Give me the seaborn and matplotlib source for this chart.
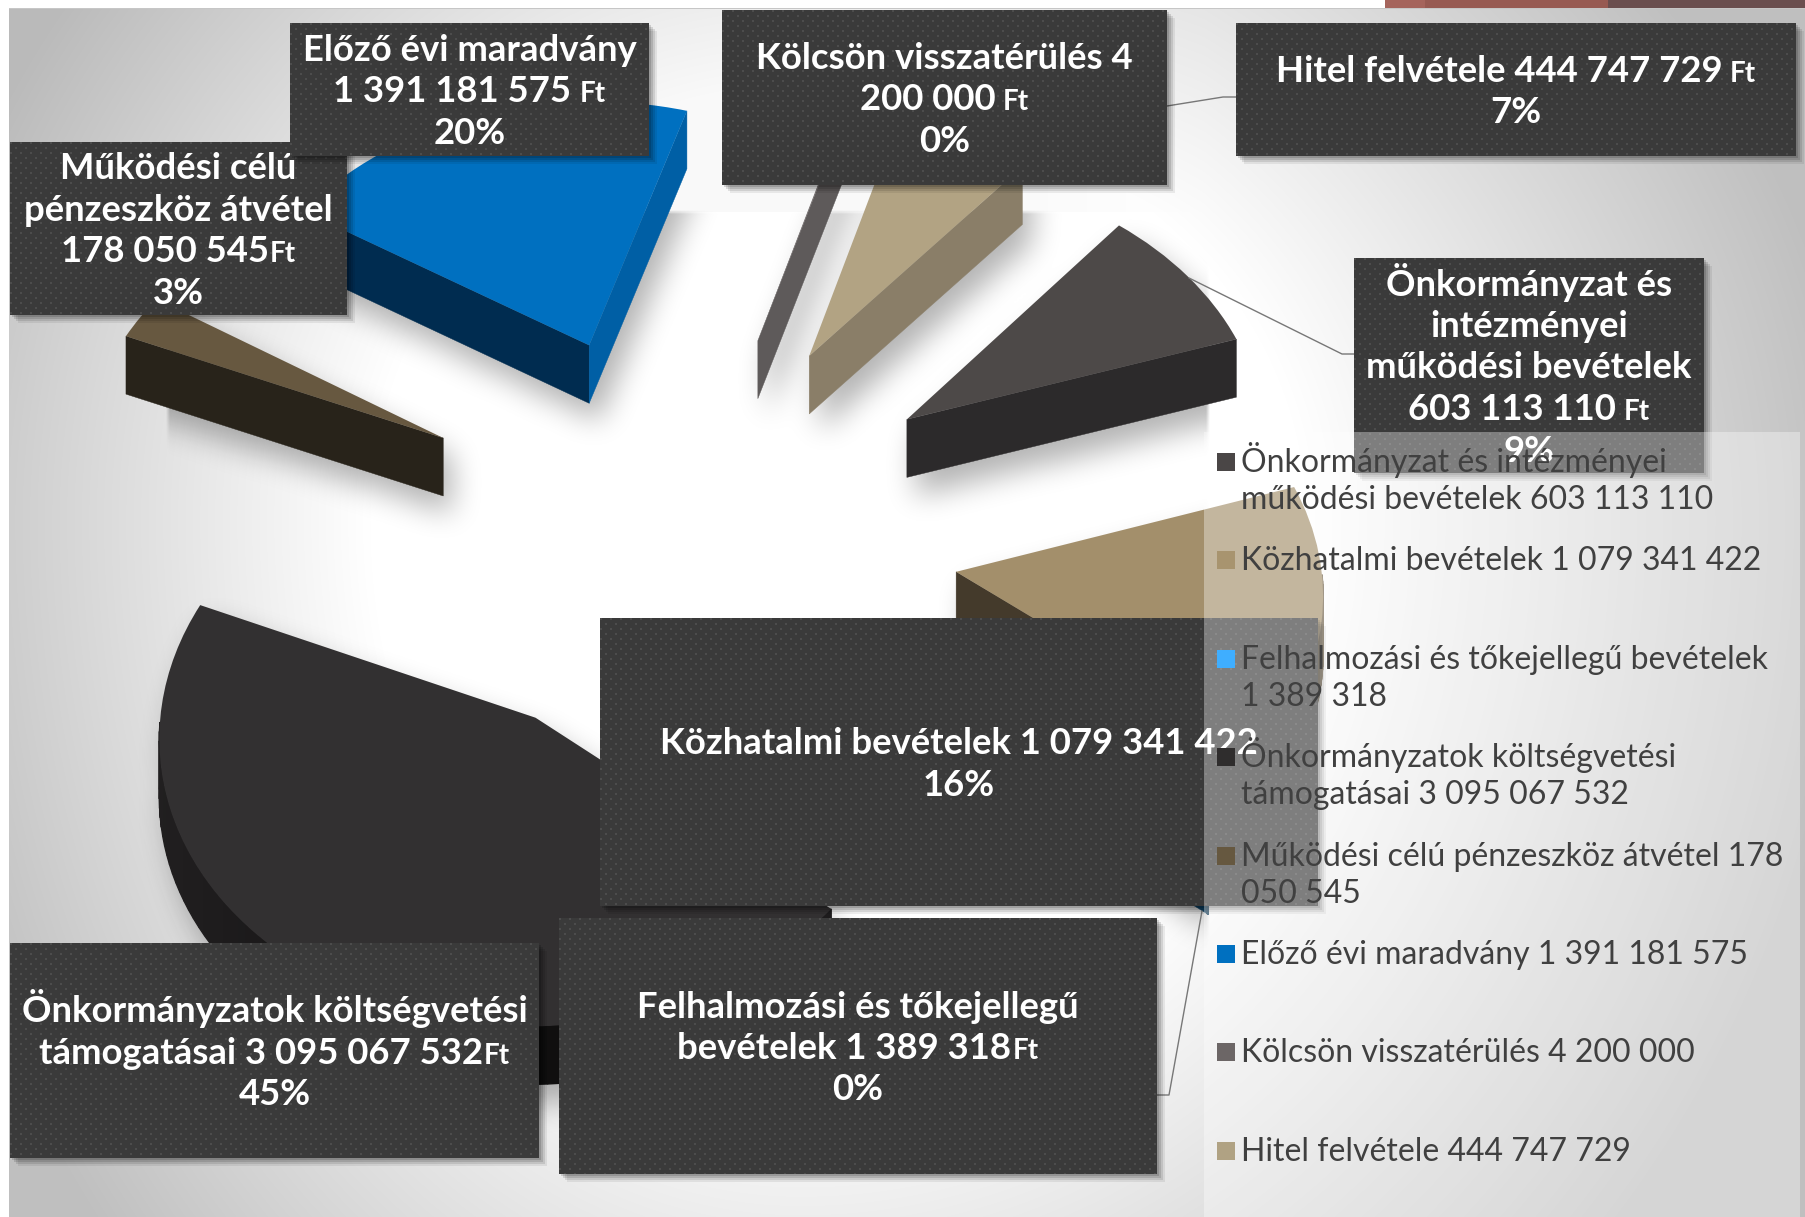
import numpy as np
import matplotlib
matplotlib.use("Agg")
import matplotlib.pyplot as plt
import seaborn as sns
from matplotlib.path import Path
from matplotlib.patches import Rectangle
from matplotlib.transforms import Transform

# Chart data
categories = [
    "Önkormányzat és intézményei működési bevételek",
    "Közhatalmi bevételek",
    "Felhalmozási és tőkejellegű bevételek",
    "Önkormányzatok költségvetési támogatásai",
    "Működési célú pénzeszköz átvétel",
    "Előző évi maradvány",
    "Kölcsön visszatérülés",
    "Hitel felvétele",
]
values = [603113110, 1079341422, 1389318, 3095067532, 178050545, 1391181575, 4200000, 444747729]

top_colors = ["#4D4948", "#A38F6B", "#3FAEFF", "#323031", "#675840", "#0070C0", "#6D6767", "#B2A383"]
legend_colors = ["#4A4646", "#A8946F", "#3FAEFF", "#2F2D2D", "#665840", "#0070C0", "#6C6666", "#B0A283"]
start_side = ["#2C2A2B", "#443A2B", "#0F3F60", "#211F20", "#28231A", "#002C50", "#5E5A5A", "#8A7E68"]
end_side = ["#2C2A2B", "#443A2B", "#0F3F60", "#211F20", "#28231A", "#005FA5", "#5E5A5A", "#8A7E68"]
arc_side = ["#2C2A2B", "#6E5F47", "#0F3F60", "#211F20", "#28231A", "#002C50", "#5E5A5A", "#8A7E68"]

legend_lines = [
    ["Önkormányzat és intézményei", "működési bevételek 603 113 110"],
    ["Közhatalmi bevételek 1 079 341 422"],
    ["Felhalmozási és tőkejellegű bevételek", "1 389 318"],
    ["Önkormányzatok költségvetési", "támogatásai 3 095 067 532"],
    ["Működési célú pénzeszköz átvétel 178", "050 545"],
    ["Előző évi maradvány 1 391 181 575"],
    ["Kölcsön visszatérülés 4 200 000"],
    ["Hitel felvétele 444 747 729"],
]

# Data labels: (box left, top, right, bottom, lines); a line is text or (text, small unit)
data_labels = [
    (10, 142, 347, 315, ["Működési célú", "pénzeszköz átvétel", ("178 050 545", "Ft"), "3%"]),
    (290, 23, 649, 156, ["Előző évi maradvány", ("1 391 181 575", " Ft"), "20%"]),
    (722, 10, 1167, 185, ["Kölcsön visszatérülés 4", ("200 000", " Ft"), "0%"]),
    (1236, 23, 1796, 156, [("Hitel felvétele 444 747 729", " Ft"), "7%"]),
    (1354, 258, 1704, 473, ["Önkormányzat és", "intézményei", "működési bevételek", ("603 113 110", " Ft"), "9%"]),
    (600, 618, 1318, 906, ["Közhatalmi bevételek 1 079 341 422", "16%"]),
    (559, 918, 1157, 1174, ["Felhalmozási és tőkejellegű", ("bevételek 1 389 318", "Ft"), "0%"]),
    (10, 943, 539, 1158, ["Önkormányzatok költségvetési", ("támogatásai 3 095 067 532", "Ft"), "45%"]),
]

leaders = [
    ([1167, 1223, 1236], [106, 97, 97]),
    ([1189, 1342, 1354], [278, 354, 354]),
    ([1202, 1169, 1157], [911, 1095, 1095]),
]

W, H = 1806, 1217
CU, CV, SX, SY, PERSP = 683.0, 533.5, 363.0, 274.0, 0.05
DEPTH = 58.0


def project(x, y):
    w = 1 + PERSP * np.asarray(y)
    return CU + SX * np.asarray(x) / w, CV - SY * np.asarray(y) / w


class TiltedPlane(Transform):
    input_dims = 2
    output_dims = 2
    is_affine = False

    def transform_non_affine(self, values):
        values = np.asarray(values)
        u, v = project(values[:, 0], values[:, 1])
        return np.column_stack([u, v])


def blur(a, size, passes=3):
    kernel = np.ones(size) / size
    for _ in range(passes):
        a = np.apply_along_axis(lambda r: np.convolve(r, kernel, mode="same"), 0, a)
        a = np.apply_along_axis(lambda r: np.convolve(r, kernel, mode="same"), 1, a)
    return a


sns.set_theme(style="white", font="Lato")
fig = plt.figure(figsize=(W / 100, H / 100), dpi=100)
ax = fig.add_axes([0, 0, 1, 1])

# The pie itself, each slice pulled out and laid on the tilted plane
palette = sns.color_palette(top_colors)
wedges, _ = ax.pie(values, colors=palette, explode=[0.76] * len(values), startangle=50,
                   counterclock=False, radius=1, wedgeprops={"linewidth": 0})
ax.set_aspect("auto")
ax.set_frame_on(False)
plane = TiltedPlane() + ax.transData

# Slide background
yy, xx = np.mgrid[0:H, 0:W]
dx = np.where(xx > 800, (xx - 800) * 0.85, xx - 800)
dy = np.where(yy > 520, (yy - 520) * 0.8, yy - 520)
bg = np.clip(1 - 0.00053 * np.clip(np.hypot(dx, dy) - 430, 0, None), 0.75, 1)
band = (yy < 212) & (xx < 1204)
bg[band] -= (0.02 * np.clip((1204 - xx) / 200.0, 0, 1))[band]
bg = np.dstack([bg, bg, bg])
bg[:9, :] = 1
bg[:, :9] = 1
bg[8, 9:] = 0.78
ax.imshow(bg, extent=(0, W, H, 0), aspect="auto", zorder=0, interpolation="nearest")
ax.add_patch(Rectangle((1385, 0), 40, 8, fc="#A5645C", lw=0, zorder=1))
ax.add_patch(Rectangle((1425, 0), 183, 8, fc="#975A52", lw=0, zorder=1))
ax.add_patch(Rectangle((1608, 0), 198, 8, fc="#6A4E4E", lw=0, zorder=1))

# Sides of the slices, collect every face for the drop shadow
faces = []
for i, wedge in enumerate(wedges):
    wedge.set_transform(plane)
    wedge.set_zorder(4)
    cx, cy = wedge.center
    t1, t2 = wedge.theta1, wedge.theta2
    th = np.radians(np.linspace(t1, t2, 90))
    ox, oy = project(cx + np.cos(th), cy + np.sin(th))
    tx, ty = project(cx, cy)
    faces.append(np.column_stack([np.r_[tx, ox], np.r_[ty, oy]]))
    faces.append(np.column_stack([np.r_[tx, ox], np.r_[ty, oy] + DEPTH]))

    # radial walls, only those turned towards the viewer
    for angle, col, show in [(t2, start_side[i], np.cos(np.radians(t2)) < 0),
                             (t1, end_side[i], np.cos(np.radians(t1)) > 0)]:
        ex, ey = project(cx + np.cos(np.radians(angle)), cy + np.sin(np.radians(angle)))
        quad = np.array([[tx, ty], [ex, ey], [ex, ey + DEPTH], [tx, ty + DEPTH]])
        faces.append(quad)
        if show:
            ax.fill(quad[:, 0], quad[:, 1], color=col, lw=0.3, zorder=3)

    # outer wall
    front = th[np.sin(th) < 0]
    if len(front) > 1:
        fx, fy = project(cx + np.cos(front), cy + np.sin(front))
        base = np.array(matplotlib.colors.to_rgb(arc_side[i]))
        for j in range(len(front) - 1):
            shade = 0.45 + 0.55 * abs(np.cos(front[j]))
            ax.fill([fx[j], fx[j + 1], fx[j + 1], fx[j]],
                    [fy[j], fy[j + 1], fy[j + 1] + DEPTH, fy[j] + DEPTH],
                    color=base * shade, lw=1.0, zorder=3)

# Soft drop shadow, cut off like in the slide
step = 4
gy, gx = np.mgrid[0:H // step + 1, 0:W // step + 1]
pts = np.column_stack([gx.ravel() * step, gy.ravel() * step])
mask = np.zeros(gx.shape)
for face in faces:
    inside = Path(face + [8, 16]).contains_points(pts).reshape(gx.shape)
    mask = np.maximum(mask, inside)
shadow = blur(mask, 7) * 0.3
px, py = gx * step, gy * step
shadow[(py < 212) | (px > 1204)] = 0
shadow[(px < 165) & (py < 600)] = 0
shadow[px < 118] = 0
ax.imshow(np.dstack([np.zeros_like(shadow)] * 3 + [shadow]), extent=(0, (W // step + 1) * step, (H // step + 1) * step, 0),
          aspect="auto", zorder=2, interpolation="bilinear")

# Leader lines
for lx, ly in leaders:
    ax.plot(lx, ly, color="#777777", lw=1.0, zorder=5)

# Data label boxes with dotted fill
renderer = fig.canvas.get_renderer()
LABEL_SIZE = 26.3
PITCH = 41.5
for n, (x0, y0, x1, y1, lines) in enumerate(data_labels):
    z = 6 + n * 0.1
    for k, alpha in [(8, 0.07), (6, 0.10), (4, 0.12), (2, 0.14)]:
        ax.add_patch(Rectangle((x0 + k, y0 + k), x1 - x0, y1 - y0, fc="black", alpha=alpha, lw=0, zorder=z))
    rows, cols = np.indices((y1 - y0, x1 - x0))
    dots = ((rows % 10 < 2) & (cols % 10 < 2)) | (((rows + 5) % 10 < 2) & ((cols + 5) % 10 < 2))
    tile = np.where(dots, 0x4C, 0x3A) / 255.0
    ax.imshow(np.dstack([tile] * 3), extent=(x0, x1, y1, y0), aspect="auto", zorder=z + 0.01, interpolation="nearest")
    xc, yc = (x0 + x1) / 2, (y0 + y1) / 2
    for m, line in enumerate(lines):
        base = yc + (m - (len(lines) - 1) / 2) * PITCH + 13
        main, unit = (line, "") if isinstance(line, str) else line
        t = ax.text(xc, base, main, color="white", fontsize=LABEL_SIZE, fontweight="bold",
                    ha="left", va="baseline", zorder=z + 0.02)
        width = t.get_window_extent(renderer).width
        if unit:
            gap = 8 if unit.startswith(" ") else 1
            u = ax.text(xc, base, unit.strip(), color="white", fontsize=LABEL_SIZE * 0.76, fontweight="bold",
                        ha="left", va="baseline", zorder=z + 0.02)
            uw = u.get_window_extent(renderer).width
            start = xc - (width + gap + uw) / 2
            u.set_x(start + width + gap)
        else:
            start = xc - width / 2
        t.set_x(start)

# Legend panel over everything, then the legend
ax.add_patch(Rectangle((1204, 432), 596, H - 432, fc="white", alpha=0.35, lw=0, zorder=8))
for i, lines in enumerate(legend_lines):
    y = 462 + 98.4 * i
    ax.scatter([1226], [y], marker="s", s=150, color=legend_colors[i], linewidths=0, zorder=9)
    for m, line in enumerate(lines):
        ax.text(1241, y + 37 * m + 10, line, color="#404040", fontsize=23.0, ha="left", va="baseline", zorder=9)

ax.set_xlim(0, W)
ax.set_ylim(H, 0)
ax.set_xticks([])
ax.set_yticks([])
fig.savefig("out.png", dpi=100)
